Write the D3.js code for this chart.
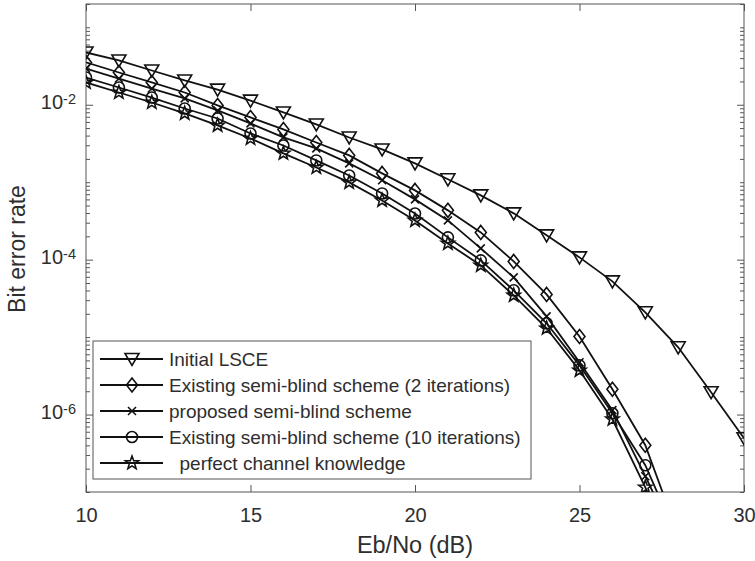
<!DOCTYPE html>
<html>
<head>
<meta charset="utf-8">
<script src="https://cdn.jsdelivr.net/npm/d3@7"></script>
<style>
  body { margin: 0; background: #fff; }
  svg { display: block; font-family: "Liberation Sans", Arial, sans-serif; }
</style>
</head>
<body>
<svg id="chart" width="755" height="561"></svg>
<script>
// Eb/No in dB
var snr = [10, 11, 12, 13, 14, 15, 16, 17, 18, 19, 20, 21, 22, 23, 24, 25, 26, 27, 28, 29, 30];

// BER values
var initialLsce = [0.0473, 0.0373, 0.0277, 0.0206, 0.0157, 0.0113, 0.00796, 0.00557, 0.00378, 0.00265,
                   0.00175, 0.00109, 0.000676, 0.000396, 0.000206, 0.000107, 5.25e-5, 2.09e-5, 7.38e-6, 1.94e-6, 4.94e-7];
var semiBlind2 = [0.0352, 0.0261, 0.0194, 0.0144, 0.0098, 0.00686, 0.0048, 0.00326, 0.00222, 0.0013,
                  0.000784, 0.000433, 0.000225, 9.5e-5, 3.56e-5, 1.02e-5, 2.12e-6, 4.02e-7, 2.8e-8];
var proposed = [0.0294, 0.0218, 0.0162, 0.0121, 0.00844, 0.00574, 0.00379, 0.00273, 0.00175, 0.00106,
                0.0006, 0.000321, 0.00014, 5.9e-5, 1.85e-5, 4.73e-6, 1.14e-6, 1.6e-7, 2.06e-8];
var semiBlind10 = [0.0225, 0.0167, 0.0124, 0.00895, 0.00665, 0.00426, 0.00298, 0.00191, 0.00122, 0.000716,
                   0.000395, 0.000194, 9.8e-5, 4.02e-5, 1.51e-5, 4.32e-6, 1.04e-6, 2.22e-7, 2.39e-8];
var perfect = [0.0194, 0.0144, 0.0107, 0.00773, 0.00541, 0.00367, 0.00236, 0.00155, 0.000994, 0.000582,
               0.000321, 0.000162, 8.43e-5, 3.46e-5, 1.3e-5, 3.72e-6, 8.7e-7, 1.15e-7, 1.3e-8];

var legendLabels = ["Initial LSCE",
                    "Existing semi-blind scheme (2 iterations)",
                    "proposed semi-blind scheme",
                    "Existing semi-blind scheme (10 iterations)",
                    "  perfect channel knowledge"];
var markerKinds = ["tri", "diamond", "cross", "circle", "star"];
var xTicks = [10, 15, 20, 25, 30];
var yMajor = [-6, -4, -2];   // exponents with labels

var series = [initialLsce, semiBlind2, proposed, semiBlind10, perfect].map(function(vals, i){
    return {name: legendLabels[i], marker: markerKinds[i],
            pts: vals.map(function(v, j){ return {x: snr[j], y: v}; })};
});

var svg = d3.select('#chart');
var margin = {left: 86, top: 4, right: 11, bottom: 69};
var w = 755 - margin.left - margin.right;
var h = 561 - margin.top - margin.bottom;

var x = d3.scaleLinear().domain([10, 30]).range([0, w]);
var y = d3.scaleLog().domain([1e-7, 0.2]).range([h, 0]);

var axisCol = "#555";
var textCol = "#2e2e2e";

var g = svg.append('g').attr('transform', 'translate(' + margin.left + ',' + margin.top + ')');

g.append('clipPath').attr('id', 'plotclip')
  .append('rect').attr('width', w).attr('height', h);

// minor ticks on log axis
var minor = [];
for (var e = -7; e <= -1; e++) {
    for (var k = 1; k <= 9; k++) {
        var v = k * Math.pow(10, e);
        if (v >= 1e-7 && v <= 0.2 && !(k === 1 && yMajor.indexOf(e) >= 0)) minor.push(v);
    }
}

// x axes (bottom + top), ticks pointing inward
var xb = g.append('g').attr('transform', 'translate(0,' + h + ')')
    .call(d3.axisBottom(x).tickValues(xTicks).tickSizeInner(-7).tickSizeOuter(0).tickPadding(16));
xb.selectAll('text').attr('font-size', 20).attr('fill', textCol).attr('font-family', '"Liberation Sans", Arial, sans-serif');
g.append('g')
    .call(d3.axisTop(x).tickValues(xTicks).tickSizeInner(-7).tickSizeOuter(0).tickFormat(''));

// y axes (left + right)
g.append('g')
    .call(d3.axisLeft(y).tickValues(yMajor.map(function(p){ return Math.pow(10, p); }))
        .tickSizeInner(-7).tickSizeOuter(0).tickFormat(''));
g.append('g').attr('transform', 'translate(' + w + ',0)')
    .call(d3.axisRight(y).tickValues(yMajor.map(function(p){ return Math.pow(10, p); }))
        .tickSizeInner(-7).tickSizeOuter(0).tickFormat(''));
g.append('g')
    .call(d3.axisLeft(y).tickValues(minor).tickSizeInner(-4).tickSizeOuter(0).tickFormat(''));
g.append('g').attr('transform', 'translate(' + w + ',0)')
    .call(d3.axisRight(y).tickValues(minor).tickSizeInner(-4).tickSizeOuter(0).tickFormat(''));

g.selectAll('.domain').remove();
g.selectAll('.tick line').attr('stroke', axisCol);

// y tick labels 10^n
yMajor.forEach(function(p){
    var t = g.append('text')
        .attr('x', -10).attr('y', y(Math.pow(10, p)) + 4)
        .attr('text-anchor', 'end').attr('fill', textCol).attr('font-size', 20);
    t.append('tspan').text('10');
    t.append('tspan').attr('dy', -4.5).attr('font-size', 14.5).text(String(p));
});

// box
g.append('rect').attr('width', w).attr('height', h)
  .attr('fill', 'none').attr('stroke', axisCol).attr('stroke-width', 1);

// marker shapes
function markerPath(kind) {
    if (kind === 'tri') return 'M-7,-5.5L7,-5.5L0,6.5Z';
    if (kind === 'diamond') return 'M0,-7L5.5,0L0,7L-5.5,0Z';
    if (kind === 'cross') return 'M-4,-4L4,4M-4,4L4,-4';
    if (kind === 'circle') return 'M5.5,0A5.5,5.5 0 1,1 -5.5,0A5.5,5.5 0 1,1 5.5,0Z';
    var s = '';
    for (var i = 0; i < 10; i++) {
        var r = i % 2 === 0 ? 7 : 2.9;
        var a = -Math.PI / 2 + i * Math.PI / 5;
        s += (i === 0 ? 'M' : 'L') + (r * Math.cos(a)).toFixed(2) + ',' + (r * Math.sin(a)).toFixed(2);
    }
    return s + 'Z';
}

var line = d3.line().x(function(d){ return x(d.x); }).y(function(d){ return y(d.y); });

var plot = g.append('g').attr('clip-path', 'url(#plotclip)');

series.forEach(function(s){
    plot.append('path').datum(s.pts)
        .attr('d', line).attr('fill', 'none')
        .attr('stroke', '#111').attr('stroke-width', 1.8);
    plot.selectAll(null).data(s.pts.filter(function(d){ return d.y >= 1e-7; }))
        .enter().append('path')
        .attr('transform', function(d){ return 'translate(' + x(d.x) + ',' + y(d.y) + ')'; })
        .attr('d', markerPath(s.marker))
        .attr('fill', 'none').attr('stroke', '#111').attr('stroke-width', 1.6);
});

// legend
var lg = svg.append('g');
lg.append('rect').attr('x', 93).attr('y', 341).attr('width', 438).attr('height', 138)
  .attr('fill', '#fff').attr('stroke', axisCol).attr('stroke-width', 1);
series.forEach(function(s, i){
    var cy = 359 + i * 26;
    lg.append('line').attr('x1', 100).attr('x2', 163).attr('y1', cy).attr('y2', cy)
      .attr('stroke', '#111').attr('stroke-width', 1.8);
    lg.append('path').attr('transform', 'translate(132,' + cy + ')')
      .attr('d', markerPath(s.marker)).attr('fill', 'none').attr('stroke', '#111').attr('stroke-width', 1.6);
    lg.append('text').attr('x', 169).attr('y', cy + 6.5)
      .attr('font-size', 19).attr('fill', textCol)
      .attr('xml:space', 'preserve').style('white-space', 'pre')
      .text(s.name);
});

// axis titles
svg.append('text').attr('x', margin.left + w / 2).attr('y', 553)
   .attr('text-anchor', 'middle').attr('font-size', 23.5).attr('fill', textCol)
   .text('Eb/No (dB)');
svg.append('text').attr('transform', 'translate(25,249) rotate(-90)')
   .attr('text-anchor', 'middle').attr('font-size', 23).attr('fill', textCol)
   .text('Bit error rate');
</script>
</body>
</html>
